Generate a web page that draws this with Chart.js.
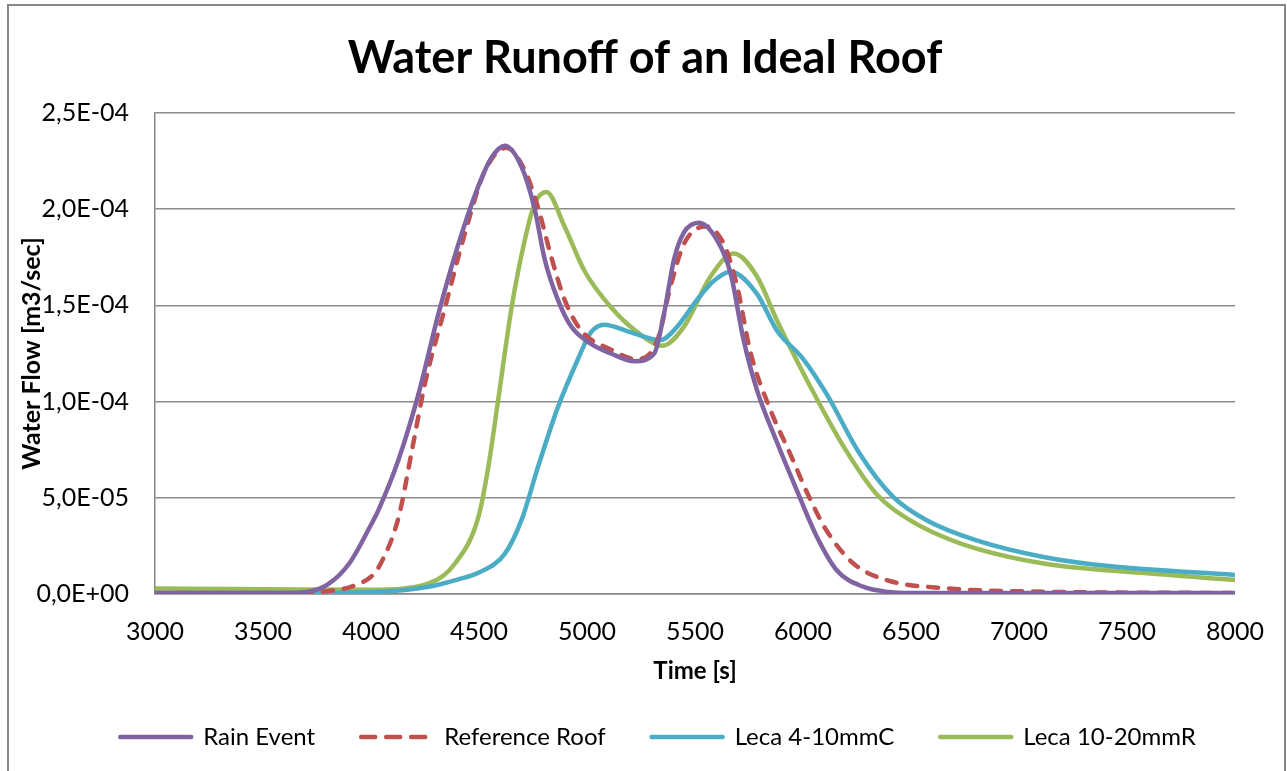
<!DOCTYPE html>
<html>
<head>
<meta charset="utf-8">
<script src="https://cdn.jsdelivr.net/npm/chart.js@4.4.1/dist/chart.umd.min.js"></script>
<style>
  body { margin: 0; background: #fff; }
  #wrap { position: relative; width: 1287px; height: 771px; }
  #frame { position: absolute; left: 7px; top: 4px; width: 1275px; height: 790px; border: 2px solid #868686; pointer-events: none; }
</style>
</head>
<body>
<div id="wrap">
  <canvas id="runoffChart" width="1287" height="771"></canvas>
  <div id="frame"></div>
</div>
<script>
// values, flow in m3/sec
const rainTime = [3000, 3600, 3700, 3800, 3900, 4000, 4036, 4128, 4220, 4313, 4405, 4497, 4559, 4620, 4697, 4758, 4804, 4865, 4927, 5019, 5111, 5219, 5311, 5357, 5403, 5449, 5518, 5602, 5664, 5725, 5787, 5879, 5971, 6063, 6155, 6278, 6400, 6500, 7000, 8000];
const rainFlow = [0.05e-5, 0.05e-5, 0.1e-5, 0.5e-5, 1.6e-5, 3.6e-5, 4.4e-5, 7.0e-5, 10.4e-5, 14.6e-5, 18.2e-5, 21.2e-5, 22.7e-5, 23.3e-5, 22.2e-5, 20.0e-5, 17.4e-5, 15.3e-5, 13.9e-5, 13.0e-5, 12.5e-5, 12.1e-5, 12.5e-5, 14.6e-5, 17.4e-5, 18.8e-5, 19.3e-5, 18.4e-5, 16.7e-5, 13.2e-5, 10.6e-5, 7.9e-5, 5.4e-5, 3.0e-5, 1.25e-5, 0.38e-5, 0.1e-5, 0.05e-5, 0.05e-5, 0.05e-5];

const refTime = [3000, 3700, 3800, 3900, 4000, 4036, 4128, 4190, 4251, 4343, 4436, 4528, 4627, 4712, 4773, 4835, 4896, 4973, 5111, 5234, 5326, 5387, 5449, 5549, 5633, 5695, 5756, 5848, 5940, 6030, 6109, 6232, 6386, 6647, 7107, 8000];
const refFlow = [0.05e-5, 0.05e-5, 0.15e-5, 0.35e-5, 0.9e-5, 1.4e-5, 4.0e-5, 7.5e-5, 11.0e-5, 14.9e-5, 18.8e-5, 22.0e-5, 23.2e-5, 22.0e-5, 20.1e-5, 17.5e-5, 15.3e-5, 13.7e-5, 12.7e-5, 12.2e-5, 13.2e-5, 16.0e-5, 18.2e-5, 19.1e-5, 18.2e-5, 16.0e-5, 12.6e-5, 9.6e-5, 7.3e-5, 5.0e-5, 3.3e-5, 1.6e-5, 0.73e-5, 0.31e-5, 0.12e-5, 0.05e-5];

const lecaCTime = [3000, 3500, 4000, 4267, 4400, 4497, 4620, 4697, 4773, 4865, 4958, 5018, 5080, 5203, 5340, 5418, 5510, 5590, 5664, 5787, 5879, 6002, 6109, 6262, 6416, 6570, 6800, 7107, 7414, 8000];
const lecaCFlow = [0.05e-5, 0.05e-5, 0.1e-5, 0.38e-5, 0.75e-5, 1.1e-5, 2.1e-5, 3.85e-5, 6.6e-5, 9.7e-5, 12.2e-5, 13.6e-5, 14.0e-5, 13.6e-5, 13.2e-5, 13.9e-5, 15.3e-5, 16.3e-5, 16.75e-5, 15.6e-5, 13.7e-5, 12.2e-5, 10.4e-5, 7.3e-5, 5.06e-5, 3.85e-5, 2.8e-5, 1.94e-5, 1.45e-5, 0.99e-5];

const lecaRTime = [3000, 3500, 4000, 4267, 4390, 4497, 4543, 4589, 4651, 4712, 4758, 4812, 4896, 4988, 5111, 5234, 5349, 5449, 5572, 5679, 5787, 5880, 6033, 6186, 6340, 6493, 6724, 7107, 7568, 8000];
const lecaRFlow = [0.28e-5, 0.25e-5, 0.22e-5, 0.55e-5, 1.6e-5, 4.0e-5, 6.6e-5, 10.1e-5, 14.9e-5, 18.4e-5, 20.3e-5, 20.9e-5, 19.1e-5, 16.8e-5, 14.9e-5, 13.6e-5, 12.9e-5, 13.9e-5, 16.5e-5, 17.7e-5, 16.5e-5, 14.2e-5, 10.8e-5, 7.7e-5, 5.2e-5, 3.85e-5, 2.65e-5, 1.6e-5, 1.1e-5, 0.73e-5];

const seriesNames = ["Rain Event", "Reference Roof", "Leca 4-10mmC", "Leca 10-20mmR"];
const seriesColors = ["#8064A2", "#C0504D", "#4BACC6", "#9BBB59"];

const timeMin = 3000, timeMax = 8000, timeStep = 500;
const flowMin = 0, flowMax = 2.5e-4, flowStep = 5e-5;

const toPoints = (xs, ys) => xs.map((x, i) => ({ x: x, y: ys[i] }));

function sciLabel(v) {
  const [m, e] = Number(v).toExponential(1).split('e');
  const n = parseInt(e, 10);
  return m.replace('.', ',') + 'E' + (n < 0 ? '-' : '+') + String(Math.abs(n)).padStart(2, '0');
}

const font = 'Lato, "DejaVu Sans", sans-serif';
const plotBottom = 594;
const bottomPad = 12;

function makeSet(i, xs, ys, dash) {
  return {
    label: seriesNames[i],
    data: toPoints(xs, ys),
    borderColor: seriesColors[i],
    backgroundColor: seriesColors[i],
    borderWidth: 4.5,
    borderDash: dash || [],
    borderCapStyle: dash ? 'round' : 'butt',
    pointRadius: 0,
    cubicInterpolationMode: 'monotone',
    fill: false
  };
}

// title and legend sit centred on the whole frame, not on the plot
const shiftBoxes = {
  id: 'shiftBoxes',
  afterLayout(chart) {
    chart.titleBlock.left += 25; chart.titleBlock.right += 25;
    chart.legend.left += 38; chart.legend.right += 38;
  }
};

// pointStyle legend loses the dash, put it back
function legendLabels(chart) {
  const items = Chart.defaults.plugins.legend.labels.generateLabels(chart);
  items.forEach(it => {
    const ds = chart.data.datasets[it.datasetIndex];
    it.lineWidth = 4.5;
    it.lineCap = 'round';
    it.lineDash = ds.borderDash.length ? [14, 11] : [];
  });
  return items;
}

const ctx = document.getElementById('runoffChart');
const runoffChart = new Chart(ctx, {
  type: 'line',
  data: {
    datasets: [
      makeSet(0, rainTime, rainFlow),
      makeSet(1, refTime, refFlow, [10, 11]),
      makeSet(2, lecaCTime, lecaCFlow),
      makeSet(3, lecaRTime, lecaRFlow)
    ]
  },
  options: {
    responsive: false,
    animation: false,
    layout: { padding: { left: 0, right: 47, top: 0, bottom: bottomPad } },
    plugins: {
      title: {
        display: true,
        text: 'Water Runoff of an Ideal Roof',
        color: '#000',
        font: { family: font, size: 45, weight: 'bold' },
        padding: { top: 31, bottom: 28 }
      },
      legend: {
        position: 'bottom',
        labels: {
          color: '#000',
          font: { family: font, size: 24 },
          usePointStyle: true,
          pointStyle: 'line',
          pointStyleWidth: 71,
          boxHeight: 24,
          padding: 46,
          generateLabels: legendLabels
        }
      },
      tooltip: { enabled: false }
    },
    scales: {
      x: {
        type: 'linear',
        min: timeMin,
        max: timeMax,
        afterFit: s => { s.height = s.chart.height - bottomPad - plotBottom - s.chart.legend.height; },
        ticks: { stepSize: timeStep, color: '#000', font: { family: font, size: 25 }, padding: 23, maxRotation: 0, callback: v => String(v) },
        grid: { display: false, drawTicks: false },
        border: { color: '#868686', width: 1.5 },
        title: { display: true, text: 'Time [s]', color: '#000', font: { family: font, size: 24, weight: 'bold' }, padding: { top: 10, bottom: -7 } }
      },
      y: {
        min: flowMin,
        max: flowMax,
        afterFit: s => { s.width = 155; },
        ticks: { stepSize: flowStep, color: '#000', font: { family: font, size: 25 }, padding: 26, callback: v => sciLabel(v) },
        grid: { color: '#8c8c8c', lineWidth: 1.5, drawTicks: false },
        border: { color: '#868686', width: 1.5 },
        title: { display: true, text: 'Water Flow [m3/sec]', color: '#000', font: { family: font, size: 25, weight: 'bold' }, padding: { top: 17, bottom: 0 } }
      }
    }
  },
  plugins: [shiftBoxes]
});
</script>
</body>
</html>
